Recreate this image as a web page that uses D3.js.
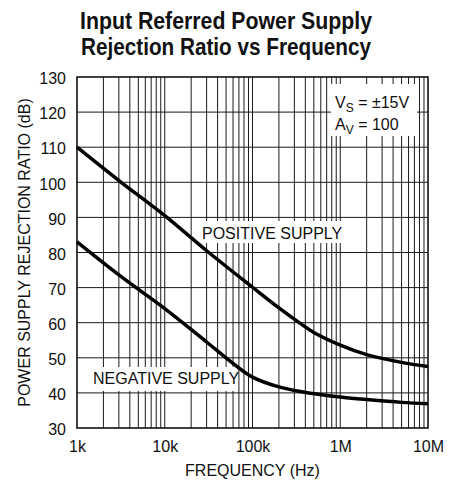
<!DOCTYPE html>
<html>
<head>
<meta charset="utf-8">
<script src="https://cdn.jsdelivr.net/npm/d3@7"></script>
<style>
  html, body { margin: 0; padding: 0; background: #fff; }
  svg { display: block; }
  text { font-family: "Liberation Sans", Arial, sans-serif; fill: #111; }
</style>
</head>
<body>
<svg id="chart" width="461" height="483"></svg>
<script>
// PSRR (dB) versus frequency (Hz)
const freqDomain = [1e3, 1e7];
const dbDomain = [30, 130];
const dbTicks = [30, 40, 50, 60, 70, 80, 90, 100, 110, 120, 130];
const freqTicks = [1e3, 1e4, 1e5, 1e6, 1e7];
const freqTickLabels = ["1k", "10k", "100k", "1M", "10M"];

const positiveFreq = [1e3, 3e3, 1e4, 3e4, 1e5, 2e5, 3.5e5, 5e5, 1e6, 2e6, 5e6, 1e7];
const positiveDb   = [110, 100.5, 90.5, 80.5, 70.1, 64.2, 59.8, 57.2, 53.6, 50.9, 48.7, 47.5];
const negativeFreq = [1e3, 3e3, 1e4, 3e4, 6e4, 1e5, 2e5, 3.5e5, 1e6, 2e6, 5e6, 1e7];
const negativeDb   = [83, 73.6, 64, 54.5, 48.4, 44.5, 41.7, 40.4, 38.8, 38.1, 37.3, 36.9];

const margin = { left: 77, top: 77, right: 428, bottom: 428 };

const svg = d3.select("#chart");
const x = d3.scaleLog().domain(freqDomain).range([margin.left, margin.right]);
const y = d3.scaleLinear().domain(dbDomain).range([margin.bottom, margin.top]);

// Title
const title = svg.append("g").attr("transform", "translate(226,0)");
[["Input Referred Power Supply", 29, 292], ["Rejection Ratio vs Frequency", 55, 290]].forEach(([t, yy, len]) => {
  title.append("text")
    .attr("x", 0).attr("y", yy)
    .attr("text-anchor", "middle")
    .attr("textLength", len)
    .attr("lengthAdjust", "spacingAndGlyphs")
    .style("font-size", "24px")
    .style("font-weight", "bold")
    .text(t);
});

// Grid: every integer multiple within each decade, every 10 dB
const minorFreqs = [];
for (let d = 1e3; d < 1e7; d *= 10) {
  for (let m = 1; m <= 9; m++) minorFreqs.push(d * m);
}
const grid = svg.append("g").attr("stroke", "#1a1a1a").attr("stroke-width", 1);
grid.selectAll("line.v").data(minorFreqs.slice(1)).join("line")
  .attr("x1", d => x(d)).attr("x2", d => x(d))
  .attr("y1", margin.top).attr("y2", margin.bottom);
grid.selectAll("line.h").data(dbTicks.slice(1, -1)).join("line")
  .attr("x1", margin.left).attr("x2", margin.right)
  .attr("y1", d => y(d)).attr("y2", d => y(d));

// White boxes behind in-plot labels
const boxes = svg.append("g").attr("fill", "#fff");
boxes.append("rect").attr("x", 331).attr("y", 84).attr("width", 86).attr("height", 52);
boxes.append("rect").attr("x", 196).attr("y", 221).attr("width", 146).attr("height", 22);
boxes.append("rect").attr("x", 79).attr("y", 367).attr("width", 159).attr("height", 24);

// Frame
svg.append("rect")
  .attr("x", margin.left).attr("y", margin.top)
  .attr("width", margin.right - margin.left).attr("height", margin.bottom - margin.top)
  .attr("fill", "none").attr("stroke", "#111").attr("stroke-width", 1.6);

// Axes (labels only; grid and frame drawn above)
const yAxis = svg.append("g")
  .attr("transform", `translate(${margin.left},0)`)
  .call(d3.axisLeft(y).tickValues(dbTicks).tickSize(0).tickPadding(11));
yAxis.select(".domain").remove();
yAxis.selectAll("text").style("font-size", "16px").attr("dy", "0.42em")
  .style("font-family", "'Liberation Sans', Arial, sans-serif").attr("fill", "#111");

const xAxis = svg.append("g")
  .attr("transform", `translate(0,${margin.bottom})`)
  .call(d3.axisBottom(x).tickValues(freqTicks).tickFormat((d, i) => freqTickLabels[i]).tickSize(0).tickPadding(13));
xAxis.select(".domain").remove();
xAxis.selectAll("text").style("font-size", "16px")
  .style("font-family", "'Liberation Sans', Arial, sans-serif").attr("fill", "#111");

// Axis titles
svg.append("text")
  .attr("x", (margin.left + margin.right) / 2).attr("y", 476)
  .attr("text-anchor", "middle").style("font-size", "16px")
  .text("FREQUENCY (Hz)");
svg.append("text")
  .attr("transform", `translate(30,${(margin.top + margin.bottom) / 2}) rotate(-90)`)
  .attr("text-anchor", "middle").style("font-size", "16px")
  .text("POWER SUPPLY REJECTION RATIO (dB)");

// Curves
const line = d3.line().x(d => x(d[0])).y(d => y(d[1])).curve(d3.curveCatmullRom.alpha(0.5));
const curves = svg.append("g").attr("fill", "none").attr("stroke", "#000").attr("stroke-width", 3.5)
  .attr("stroke-linecap", "butt");
curves.append("path").attr("d", line(d3.zip(positiveFreq, positiveDb)));
curves.append("path").attr("d", line(d3.zip(negativeFreq, negativeDb)));

// In-plot labels
svg.append("text").attr("x", 202).attr("y", 239).style("font-size", "16px").text("POSITIVE SUPPLY");
svg.append("text").attr("x", 93).attr("y", 384).style("font-size", "16px").text("NEGATIVE SUPPLY");

const cond = svg.append("g").style("font-size", "16px");
const t1 = cond.append("text").attr("x", 335).attr("y", 108);
t1.append("tspan").text("V");
t1.append("tspan").attr("dy", 4).style("font-size", "12px").text("S");
t1.append("tspan").attr("dy", -4).text(" = ±15V");
const t2 = cond.append("text").attr("x", 335).attr("y", 130);
t2.append("tspan").text("A");
t2.append("tspan").attr("dy", 4).style("font-size", "12px").text("V");
t2.append("tspan").attr("dy", -4).text(" = 100");
</script>
</body>
</html>
